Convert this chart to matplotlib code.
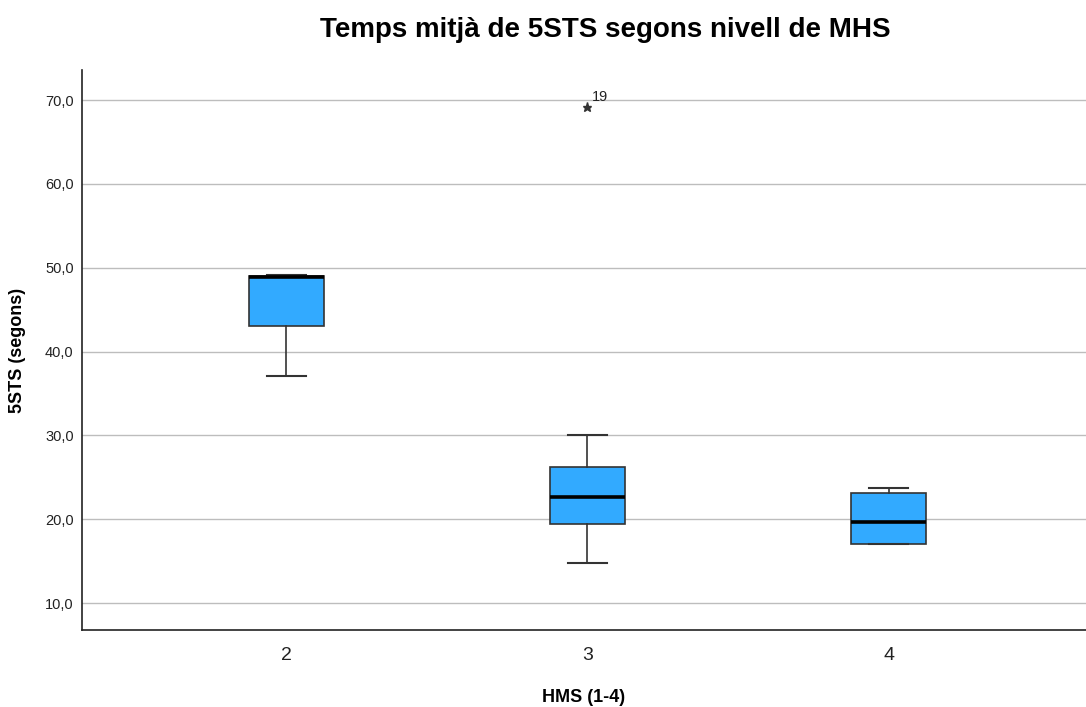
import matplotlib
matplotlib.use("Agg")
import matplotlib.pyplot as plt
from matplotlib.ticker import FuncFormatter

# Values
groups = ["2", "3", "4"]
whislo = [37.1, 14.8, 17.0]
q1 = [43.0, 19.4, 17.0]
med = [48.95, 22.6, 19.7]
q3 = [49.0, 26.2, 23.1]
whishi = [49.2, 30.0, 23.7]
fliers = [[], [69.2], []]
flier_ids = [[], ["19"], []]

plt.rcParams['font.family'] = ['Liberation Sans', 'DejaVu Sans']

stats = []
for i, g in enumerate(groups):
    stats.append({
        "label": g, "whislo": whislo[i], "q1": q1[i], "med": med[i],
        "q3": q3[i], "whishi": whishi[i], "fliers": fliers[i],
    })

fig = plt.figure(figsize=(10.86, 7.07), dpi=100)
ax = fig.add_axes([0.0755, 0.109, 0.9245, 0.792])

pos = [1, 2, 3]
ax.bxp(stats, positions=pos, widths=0.25, patch_artist=True,
       boxprops=dict(facecolor="#32AAFF", edgecolor="#333333", linewidth=1.2),
       medianprops=dict(color="black", linewidth=2.6),
       whiskerprops=dict(color="#333333", linewidth=1.2),
       capprops=dict(color="#333333", linewidth=1.5),
       capwidths=0.13,
       flierprops=dict(marker="*", markerfacecolor="#333333",
                       markeredgecolor="#333333", markersize=6.5),
       zorder=3)

# outlier case labels
for p, vals, ids in zip(pos, fliers, flier_ids):
    for v, lab in zip(vals, ids):
        ax.annotate(lab, (p, v), xytext=(3, 4), textcoords="offset points",
                    fontsize=10.5, color="#222222")

ax.set_xlim(0.322, 3.655)
ax.set_ylim(6.8, 73.6)
ax.set_yticks([10, 20, 30, 40, 50, 60, 70])
ax.yaxis.set_major_formatter(FuncFormatter(lambda v, p: f"{v:.1f}".replace(".", ",")))
ax.yaxis.grid(True, color="#BDBDBD", linewidth=1.0, zorder=0)
ax.set_axisbelow(True)

ax.tick_params(axis="y", length=0, labelsize=10.5, pad=6, colors="#222222")
ax.tick_params(axis="x", length=0, labelsize=14, pad=12, colors="#222222")

for s in ["top", "right"]:
    ax.spines[s].set_visible(False)
for s in ["left", "bottom"]:
    ax.spines[s].set_color("#222222")
    ax.spines[s].set_linewidth(1.2)

ax.set_xlabel("HMS (1-4)", fontsize=13, fontweight="bold", labelpad=18)
ax.set_ylabel("5STS (segons)", fontsize=13, fontweight="bold", labelpad=14)
fig.text(0.557, 0.958, "Temps mitjà de 5STS segons nivell de MHS",
         ha="center", va="center", fontsize=20, fontweight="bold")

fig.savefig("out.png", dpi=100)
